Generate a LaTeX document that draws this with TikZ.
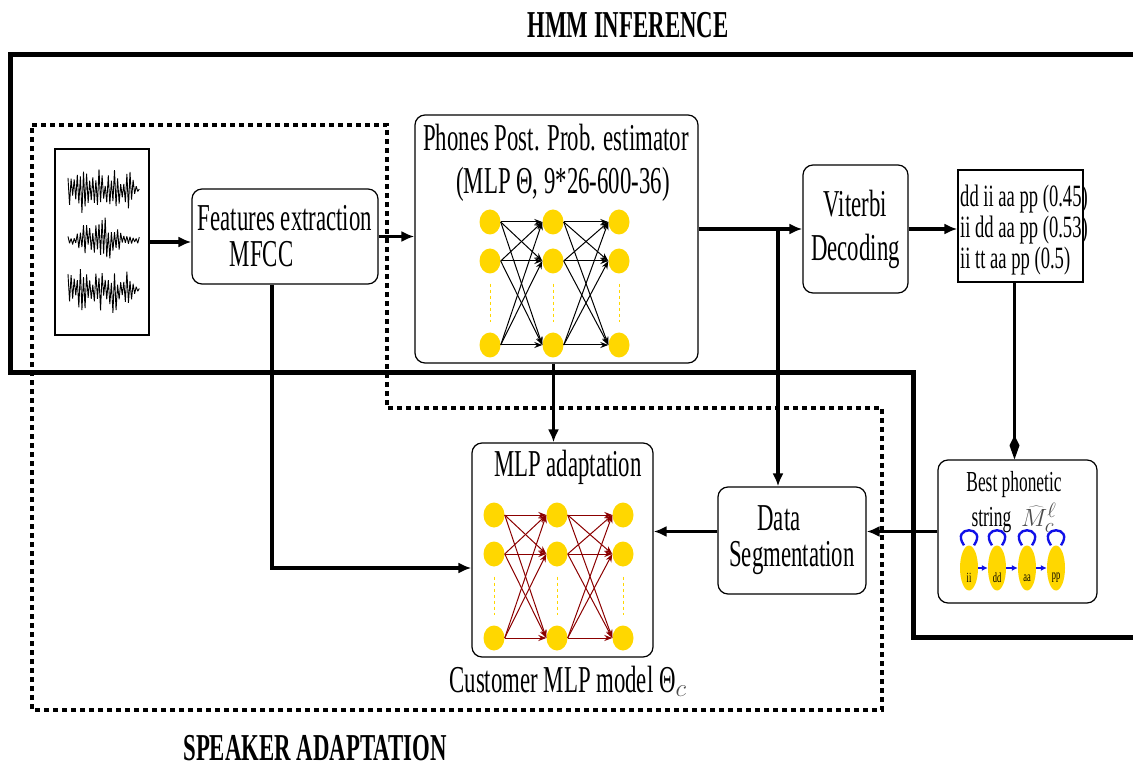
\documentclass[tikz,border=0pt]{standalone}
\usepackage{fontspec}
\setmainfont[FakeStretch=0.6]{Liberation Serif}
\usepackage{xcolor}
\usepackage{tikz}
\usetikzlibrary{arrows.meta,shapes.geometric}

\definecolor{neuronyellow}{HTML}{FFD700}
\definecolor{linkred}{HTML}{8B0000}
\definecolor{loopblue}{HTML}{1010E8}

\newcommand{\boxfont}{\fontsize{38}{36}\selectfont}
\newcommand{\listfont}{\fontsize{31}{31}\selectfont}
\newcommand{\smallboxfont}{\fontsize{29}{33}\selectfont}
\newcommand{\phonefont}{\fontsize{14}{14}\selectfont}

% three-layer MLP: #1 name, #2/#3 first neuron, #4 link colour
\newcommand{\mlpnet}[4]{%
    \foreach \c/\dx in {1/0,2/63,3/129} {
        \foreach \r/\dy in {1/0,2/39,3/123} {
            \node[neuron] (#1-\c-\r) at (#2+\dx,#3+\dy) {};
        }
        % dots between second and last neuron
        \draw[dashed, neuronyellow, line width=0.8pt] ([yshift=-10pt]#1-\c-2.south) -- ([yshift=10pt]#1-\c-3.north);
    }
    \foreach \c/\n in {1/2,2/3} {
        \foreach \r in {1,2,3} {
            \foreach \s in {1,2,3} {
                \draw[link, #4] (#1-\c-\r.east) -- (#1-\n-\s.west);
            }
        }
    }
}

\begin{document}
\begin{tikzpicture}[x=1pt,y=-1pt,
    rbox/.style={draw, line width=1.2pt, rounded corners=10pt, inner sep=0pt, align=center, font=\boxfont},
    arr/.style={line width=3.2pt, -{Latex[length=13pt,width=11pt]}},
    neuron/.style={ellipse, fill=neuronyellow, minimum width=21pt, minimum height=25pt, inner sep=0pt},
    link/.style={line width=1pt, -{Stealth[length=8pt,width=6pt]}},
    hmmstate/.style={ellipse, fill=neuronyellow, minimum width=18pt, minimum height=45pt, inner sep=0pt},
    declare function={envA(\x)=24*min(1,(141-\x)/12)*(0.75+0.25*sin(\x*23));
                      envB(\x)=4+19*exp(-((\x-105)^2)/180)+10*exp(-((\x-84)^2)/40);}
]
\useasboundingbox (0,0) rectangle (1133,767);

% region titles
\node[font=\boxfont\bfseries] (hmmtitle) at (628,25) {HMM INFERENCE};
\node[font=\boxfont\bfseries] (spktitle) at (315,748) {SPEAKER ADAPTATION};

% HMM inference frame
\draw[line width=5pt] (1140,55) -- (10,55) -- (10,373) -- (913,373) -- (913,637) -- (1140,637);
% speaker adaptation frame
\draw[line width=3.5pt, dash pattern=on 5pt off 4pt] (32,125) -- (387,125) -- (387,408) -- (882,408) -- (882,710) -- (32,710) -- cycle;

% speech signal
\node[draw, line width=1.2pt, minimum width=94pt, minimum height=186pt, inner sep=0pt] (wave) at (102,242) {};
\pgfmathsetseed{3}
\foreach \yc/\kind in {190/1,240/2,290/1} {
    \draw[line width=0.9pt, line join=bevel] plot[domain=0:46, samples=47, variable=\t]
        ({68+1.55*\t}, {\yc + (2*mod(round(\t),2)-1)*(\kind==2 ? envB(68+1.55*\t) : envA(68+1.55*\t))*(0.3+0.7*rnd)});
}

% boxes
\node[rbox, minimum width=186pt, minimum height=95pt, align=left] (feat) at (285,236.5) {Features extraction\\\hspace*{32pt}MFCC};
\node[rbox, minimum width=283pt, minimum height=248pt] (phones) at (556.5,239) {};
\node[font=\fontsize{38}{43}\selectfont, align=center, inner sep=0pt] (phonestitle) at (556,163) {Phones Post. Prob. estimator\\\hspace*{14pt}(MLP Θ, 9*26-600-36)};
\node[rbox, minimum width=105pt, minimum height=128pt, font=\fontsize{38}{44}\selectfont] (viterbi) at (855.5,229) {Viterbi\\Decoding};
\node[draw, line width=1.2pt, minimum width=125pt, minimum height=112pt] (listbox) at (1020.5,226) {};
\node[font=\listfont, align=left, anchor=west, inner sep=0pt] (nbest) at (960,230) {dd ii aa pp (0.45)\\ii dd aa pp (0.53)\\ii tt aa pp (0.5)};
\node[rbox, minimum width=159pt, minimum height=143pt] (best) at (1017.5,531.5) {};
\node[font=\smallboxfont, align=center, inner sep=0pt] (besttitle) at (1014,502) {Best phonetic\\[2pt]string\hspace{10pt}{\color{black!70}$\widehat{M}_c^{\ell}$}};
\node[rbox, minimum width=148pt, minimum height=107pt] (dataseg) at (792,540.5) {\hspace*{-26pt}Data\\Segmentation};
\node[rbox, minimum width=181pt, minimum height=214pt] (mlpad) at (562.5,550) {};
\node[font=\boxfont] (mlpadtitle) at (568,467) {MLP adaptation};
\node[font=\boxfont] (customer) at (568,681) {Customer MLP model Θ{\color{black!70}$_c$}};

% networks
\mlpnet{pn}{490}{222}{black}
\mlpnet{an}{494}{515}{linkred}

% phonetic string HMM
\foreach \i/\x/\lab in {1/969/ii,2/997/dd,3/1027/aa,4/1056/pp} {
    \node[hmmstate] (st\i) at (\x,568) {};
    \node[font=\phonefont, inner sep=0pt] (stlab\i) at (\x,578) {\lab};
    \draw[loopblue, line width=2.4pt] ([xshift=-5pt]st\i.north) .. controls +(-14,-20) and +(14,-20) .. ([xshift=5pt]st\i.north);
}
\foreach \i/\j in {1/2,2/3,3/4}
    \draw[loopblue, line width=1.6pt, -{Latex[length=6pt,width=6pt]}] (st\i.east) -- (st\j.west);

% connectors
\coordinate (split) at (778,229);
\draw[arr] (wave.east) -- (wave.east -| feat.west);
\draw[arr] (feat.east) -- (feat.east -| phones.west);
\draw[arr] (phones.east |- viterbi) -- (viterbi.west);
\draw[arr] (split) -- (split |- dataseg.north);
\draw[arr] (viterbi.east) -- (viterbi.east -| listbox.west);
\draw[line width=2.2pt, -{Kite[length=24pt,width=10pt,inset=10pt]}] ([xshift=-6pt]listbox.south) -- ([xshift=-6pt]listbox.south |- best.north);
\draw[arr] (best.west) -- (best.west -| dataseg.east);
\draw[arr] (dataseg.west |- best.west) -- (mlpad.east |- best.west);
\draw[arr] ([xshift=-3pt]phones.south) -- ([xshift=-3pt]phones.south |- mlpad.north);
\draw[arr] ([xshift=-13pt]feat.south) |- ([yshift=-18pt]mlpad.west);
\end{tikzpicture}
\end{document}
